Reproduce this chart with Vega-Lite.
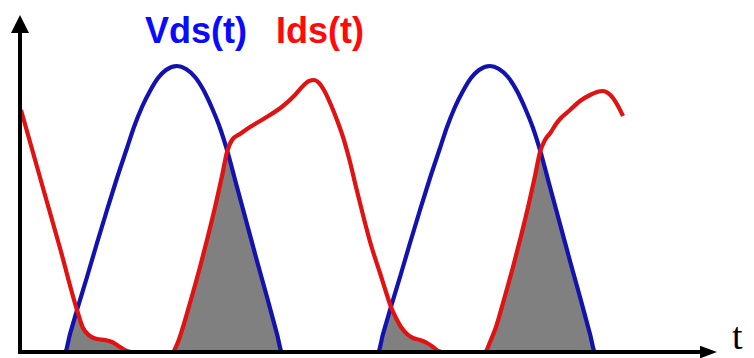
{
  "$schema": "https://vega.github.io/schema/vega-lite/v6.json",
  "width": 754,
  "height": 358,
  "autosize": {"type": "none"},
  "padding": 0,
  "background": "white",
  "config": {"view": {"stroke": null}},
  "datasets": {
    "vds": [
      {"t": 0, "v": 0}, {"t": 45, "v": 0}, {"t": 50, "v": 18}, {"t": 57, "v": 42}, {"t": 67, "v": 75},
      {"t": 77, "v": 109}, {"t": 87, "v": 142}, {"t": 97, "v": 174}, {"t": 107, "v": 204},
      {"t": 114, "v": 225}, {"t": 122, "v": 245}, {"t": 130, "v": 261}, {"t": 138, "v": 274},
      {"t": 146, "v": 282}, {"t": 157, "v": 286}, {"t": 166, "v": 283}, {"t": 175, "v": 275},
      {"t": 184, "v": 261}, {"t": 192, "v": 244}, {"t": 200, "v": 224}, {"t": 207, "v": 202},
      {"t": 217, "v": 165}, {"t": 227, "v": 128}, {"t": 237, "v": 91}, {"t": 247, "v": 55},
      {"t": 257, "v": 18}, {"t": 262, "v": 0},
      {"t": 358, "v": 0}, {"t": 363, "v": 18}, {"t": 370, "v": 42}, {"t": 380, "v": 75},
      {"t": 390, "v": 109}, {"t": 400, "v": 142}, {"t": 410, "v": 174}, {"t": 420, "v": 204},
      {"t": 427, "v": 225}, {"t": 435, "v": 245}, {"t": 443, "v": 261}, {"t": 451, "v": 274},
      {"t": 459, "v": 282}, {"t": 470, "v": 286}, {"t": 479, "v": 283}, {"t": 488, "v": 275},
      {"t": 497, "v": 261}, {"t": 505, "v": 244}, {"t": 513, "v": 224}, {"t": 520, "v": 202},
      {"t": 530, "v": 165}, {"t": 540, "v": 128}, {"t": 550, "v": 91}, {"t": 560, "v": 55},
      {"t": 570, "v": 18}, {"t": 575, "v": 0}, {"t": 640, "v": 0}
    ],
    "ids": [
      {"t": 1, "v": 242}, {"t": 23, "v": 164}, {"t": 40, "v": 104}, {"t": 57, "v": 42},
      {"t": 63, "v": 24}, {"t": 70, "v": 16}, {"t": 77, "v": 13}, {"t": 85, "v": 12},
      {"t": 92, "v": 10}, {"t": 100, "v": 5}, {"t": 107, "v": 1}, {"t": 112, "v": 0},
      {"t": 152, "v": 0}, {"t": 158, "v": 10}, {"t": 163, "v": 25}, {"t": 170, "v": 49},
      {"t": 180, "v": 85}, {"t": 188, "v": 116}, {"t": 196, "v": 149}, {"t": 202, "v": 176},
      {"t": 207, "v": 200}, {"t": 212, "v": 212}, {"t": 220, "v": 218}, {"t": 230, "v": 225},
      {"t": 245, "v": 234}, {"t": 263, "v": 246}, {"t": 275, "v": 257}, {"t": 283, "v": 266},
      {"t": 289, "v": 271}, {"t": 294, "v": 272}, {"t": 299, "v": 269}, {"t": 305, "v": 260},
      {"t": 311, "v": 247}, {"t": 317, "v": 232}, {"t": 323, "v": 215}, {"t": 330, "v": 190},
      {"t": 336, "v": 165}, {"t": 343, "v": 137}, {"t": 351, "v": 107}, {"t": 360, "v": 79},
      {"t": 366, "v": 60}, {"t": 371, "v": 45}, {"t": 376, "v": 34}, {"t": 381, "v": 25},
      {"t": 387, "v": 18}, {"t": 393, "v": 14}, {"t": 400, "v": 12}, {"t": 407, "v": 9},
      {"t": 413, "v": 5}, {"t": 418, "v": 1}, {"t": 422, "v": 0},
      {"t": 465, "v": 0}, {"t": 470, "v": 10}, {"t": 476, "v": 25}, {"t": 483, "v": 49},
      {"t": 493, "v": 85}, {"t": 501, "v": 116}, {"t": 509, "v": 149}, {"t": 515, "v": 176},
      {"t": 520, "v": 200}, {"t": 525, "v": 212}, {"t": 531, "v": 220}, {"t": 536, "v": 228},
      {"t": 540, "v": 233}, {"t": 550, "v": 242}, {"t": 560, "v": 251}, {"t": 570, "v": 257},
      {"t": 577, "v": 260}, {"t": 583, "v": 261}, {"t": 588, "v": 259}, {"t": 593, "v": 254},
      {"t": 598, "v": 246}, {"t": 603, "v": 236}
    ],
    "overlap": [
      {"part": "a", "t": 45, "v": 0}, {"part": "a", "t": 50, "v": 18}, {"part": "a", "t": 57, "v": 42},
      {"part": "a", "t": 63, "v": 24}, {"part": "a", "t": 70, "v": 16}, {"part": "a", "t": 77, "v": 13},
      {"part": "a", "t": 85, "v": 12}, {"part": "a", "t": 92, "v": 10}, {"part": "a", "t": 100, "v": 5},
      {"part": "a", "t": 107, "v": 1}, {"part": "a", "t": 112, "v": 0},
      {"part": "b", "t": 152, "v": 0}, {"part": "b", "t": 158, "v": 10}, {"part": "b", "t": 163, "v": 25},
      {"part": "b", "t": 170, "v": 49}, {"part": "b", "t": 180, "v": 85}, {"part": "b", "t": 188, "v": 116},
      {"part": "b", "t": 196, "v": 149}, {"part": "b", "t": 202, "v": 176}, {"part": "b", "t": 207, "v": 200},
      {"part": "b", "t": 217, "v": 165}, {"part": "b", "t": 227, "v": 128}, {"part": "b", "t": 237, "v": 91},
      {"part": "b", "t": 247, "v": 55}, {"part": "b", "t": 257, "v": 18}, {"part": "b", "t": 262, "v": 0},
      {"part": "c", "t": 358, "v": 0}, {"part": "c", "t": 363, "v": 18}, {"part": "c", "t": 370, "v": 42},
      {"part": "c", "t": 376, "v": 34}, {"part": "c", "t": 381, "v": 25}, {"part": "c", "t": 387, "v": 18},
      {"part": "c", "t": 393, "v": 14}, {"part": "c", "t": 400, "v": 12}, {"part": "c", "t": 407, "v": 9},
      {"part": "c", "t": 413, "v": 5}, {"part": "c", "t": 418, "v": 1}, {"part": "c", "t": 422, "v": 0},
      {"part": "d", "t": 465, "v": 0}, {"part": "d", "t": 470, "v": 10}, {"part": "d", "t": 476, "v": 25},
      {"part": "d", "t": 483, "v": 49}, {"part": "d", "t": 493, "v": 85}, {"part": "d", "t": 501, "v": 116},
      {"part": "d", "t": 509, "v": 149}, {"part": "d", "t": 515, "v": 176}, {"part": "d", "t": 520, "v": 200},
      {"part": "d", "t": 530, "v": 165}, {"part": "d", "t": 540, "v": 128}, {"part": "d", "t": 550, "v": 91},
      {"part": "d", "t": 560, "v": 55}, {"part": "d", "t": 570, "v": 18}, {"part": "d", "t": 575, "v": 0}
    ],
    "one": [{}]
  },
  "layer": [
    {
      "data": {"name": "overlap"},
      "mark": {"type": "area", "color": "#808080", "opacity": 1},
      "encoding": {
        "x": {"field": "t", "type": "quantitative", "scale": {"domain": [-20, 734], "nice": false, "zero": false}, "axis": null},
        "y": {"field": "v", "type": "quantitative", "scale": {"domain": [-6, 352], "nice": false, "zero": false}, "axis": null},
        "y2": {"datum": 0},
        "detail": {"field": "part"}
      }
    },
    {
      "data": {"name": "vds"},
      "mark": {"type": "line", "color": "#1212b0", "strokeWidth": 4.2, "interpolate": "monotone"},
      "encoding": {
        "x": {"field": "t", "type": "quantitative"},
        "y": {"field": "v", "type": "quantitative"}
      }
    },
    {
      "data": {"name": "ids"},
      "mark": {"type": "line", "color": "#e01212", "strokeWidth": 4.2, "interpolate": "monotone"},
      "encoding": {
        "x": {"field": "t", "type": "quantitative"},
        "y": {"field": "v", "type": "quantitative"}
      }
    },
    {
      "data": {"name": "one"},
      "mark": {"type": "rule", "color": "black", "strokeWidth": 4},
      "encoding": {"x": {"datum": 0}, "y": {"datum": -2}, "y2": {"datum": 330}}
    },
    {
      "data": {"name": "one"},
      "mark": {"type": "rule", "color": "black", "strokeWidth": 4},
      "encoding": {"y": {"datum": 0}, "x": {"datum": -2}, "x2": {"datum": 690}}
    },
    {
      "data": {"name": "one"},
      "mark": {"type": "point", "filled": true, "color": "black", "opacity": 1, "shape": "M0,-1L1,1L-1,1Z", "size": 324},
      "encoding": {"x": {"datum": 0}, "y": {"datum": 328}}
    },
    {
      "data": {"name": "one"},
      "mark": {"type": "point", "filled": true, "color": "black", "opacity": 1, "shape": "M1,0L-1,0.75L-1,-0.75Z", "size": 289},
      "encoding": {"x": {"datum": 688.5}, "y": {"datum": 0}}
    },
    {
      "data": {"name": "one"},
      "mark": {"type": "text", "text": "Vds(t)", "color": "#0a0aff", "font": "Liberation Sans", "fontWeight": "bold", "fontSize": 36, "align": "left", "baseline": "alphabetic"},
      "encoding": {"x": {"datum": 125}, "y": {"datum": 309}}
    },
    {
      "data": {"name": "one"},
      "mark": {"type": "text", "text": "Ids(t)", "color": "#ff0a0a", "font": "Liberation Sans", "fontWeight": "bold", "fontSize": 36, "align": "left", "baseline": "alphabetic"},
      "encoding": {"x": {"datum": 256}, "y": {"datum": 309}}
    },
    {
      "data": {"name": "one"},
      "mark": {"type": "text", "text": "t", "color": "black", "font": "Liberation Serif", "fontSize": 38, "align": "left", "baseline": "alphabetic"},
      "encoding": {"x": {"datum": 712}, "y": {"datum": 3}}
    }
  ]
}
